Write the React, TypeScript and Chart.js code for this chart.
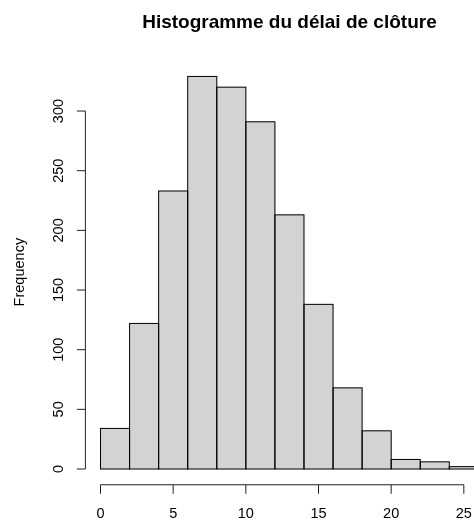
import React, { useEffect, useRef } from "react";
import { Chart, registerables } from "chart.js";

Chart.register(...registerables);

const titleText = "Histogramme du délai de clôture";
const yAxisTitle = "Frequency";
// histogram bins (width 2), given by their mid points
const binMids = [1, 3, 5, 7, 9, 11, 13, 15, 17, 19, 21, 23, 25];
const counts = [34, 122, 233, 329, 320, 291, 213, 138, 68, 32, 8, 6, 2];
const xTickValues = [0, 5, 10, 15, 20, 25];
const yTickValues = [0, 50, 100, 150, 200, 250, 300];
// R plot region (data range extended by 4%)
const xPlotRange = [-1.04, 27.04];

const FONT = '"Liberation Sans", Arial, sans-serif';

const rStylePlugin = {
  id: "rStyle",
  afterDatasetsDraw(chart: any) {
    const ctx = chart.ctx;
    const meta = chart.getDatasetMeta(0);
    ctx.save();
    ctx.strokeStyle = "#000";
    ctx.lineWidth = 1;
    meta.data.forEach((el: any) => {
      const { x, y, base, width } = el.getProps(["x", "y", "base", "width"], true);
      ctx.strokeRect(x - width / 2, y, width, base - y);
    });
    ctx.restore();
  },
  afterDraw(chart: any) {
    const ctx = chart.ctx;
    const xs = chart.scales.x;
    const ys = chart.scales.y;
    const area = chart.chartArea;
    ctx.save();
    ctx.strokeStyle = "#222";
    ctx.fillStyle = "#000";
    ctx.lineWidth = 1;

    // y axis
    const yAxisX = area.left;
    const yTop = ys.getPixelForValue(yTickValues[yTickValues.length - 1]);
    const yBot = ys.getPixelForValue(yTickValues[0]);
    ctx.beginPath();
    ctx.moveTo(yAxisX, yTop);
    ctx.lineTo(yAxisX, yBot);
    ys.ticks.forEach((t: any) => {
      const py = ys.getPixelForValue(t.value);
      ctx.moveTo(yAxisX, py);
      ctx.lineTo(yAxisX - 8.5, py);
    });
    ctx.stroke();
    ctx.font = `14.5px ${FONT}`;
    ctx.textAlign = "center";
    ctx.textBaseline = "alphabetic";
    ys.ticks.forEach((t: any) => {
      const py = ys.getPixelForValue(t.value);
      ctx.save();
      ctx.translate(yAxisX - 22, py);
      ctx.rotate(-Math.PI / 2);
      ctx.fillText(String(t.value), 0, 0);
      ctx.restore();
    });

    // x axis
    const xAxisY = area.bottom;
    const xL = xs.getPixelForValue(xTickValues[0]);
    const xR = xs.getPixelForValue(xTickValues[xTickValues.length - 1]);
    ctx.beginPath();
    ctx.moveTo(xL, xAxisY);
    ctx.lineTo(xR, xAxisY);
    xs.ticks.forEach((t: any) => {
      const px = xs.getPixelForValue(t.value);
      ctx.moveTo(px, xAxisY);
      ctx.lineTo(px, xAxisY + 9);
    });
    ctx.stroke();
    xs.ticks.forEach((t: any) => {
      const px = xs.getPixelForValue(t.value);
      ctx.fillText(String(t.value), px, xAxisY + 33);
    });

    // y axis title
    const midY = (area.top + area.bottom) / 2;
    ctx.save();
    ctx.translate(23.7, midY);
    ctx.rotate(-Math.PI / 2);
    ctx.fillText(yAxisTitle, 0, 0);
    ctx.restore();

    // main title, centred on the plot region
    const cx = (xs.getPixelForValue(xPlotRange[0]) + xs.getPixelForValue(xPlotRange[1])) / 2;
    ctx.font = `bold 19px ${FONT}`;
    ctx.fillText(titleText, cx, 28);
    ctx.restore();
  },
};

export default function App() {
  const canvasRef = useRef<HTMLCanvasElement | null>(null);

  useEffect(() => {
    if (!canvasRef.current) return;
    const chart = new Chart(canvasRef.current, {
      type: "bar",
      data: {
        datasets: [
          {
            data: binMids.map((m, i) => ({ x: m, y: counts[i] })),
            backgroundColor: "#D3D3D3",
            borderWidth: 0,
            barPercentage: 1,
            categoryPercentage: 1,
          },
        ],
      },
      options: {
        animation: false,
        responsive: false,
        devicePixelRatio: 1,
        layout: { padding: { left: 85.4, top: 59.5, right: 0, bottom: 38.25 } },
        plugins: {
          legend: { display: false },
          title: { display: false },
          tooltip: { enabled: false },
        },
        scales: {
          x: {
            type: "linear",
            display: false,
            offset: false,
            grid: { offset: false },
            min: xPlotRange[0],
            max: 25.7,
            afterBuildTicks: (s: any) => {
              s.ticks = xTickValues.map((v) => ({ value: v }));
            },
          },
          y: {
            type: "linear",
            display: false,
            min: -13.2,
            max: 343.2,
            afterBuildTicks: (s: any) => {
              s.ticks = yTickValues.map((v) => ({ value: v }));
            },
          },
        },
      },
      plugins: [rStylePlugin],
    });
    return () => chart.destroy();
  }, []);

  return (
    <div style={{ position: "fixed", left: 0, top: 0, width: 474, height: 523, background: "#fff" }}>
      <canvas ref={canvasRef} width={474} height={523} />
    </div>
  );
}
